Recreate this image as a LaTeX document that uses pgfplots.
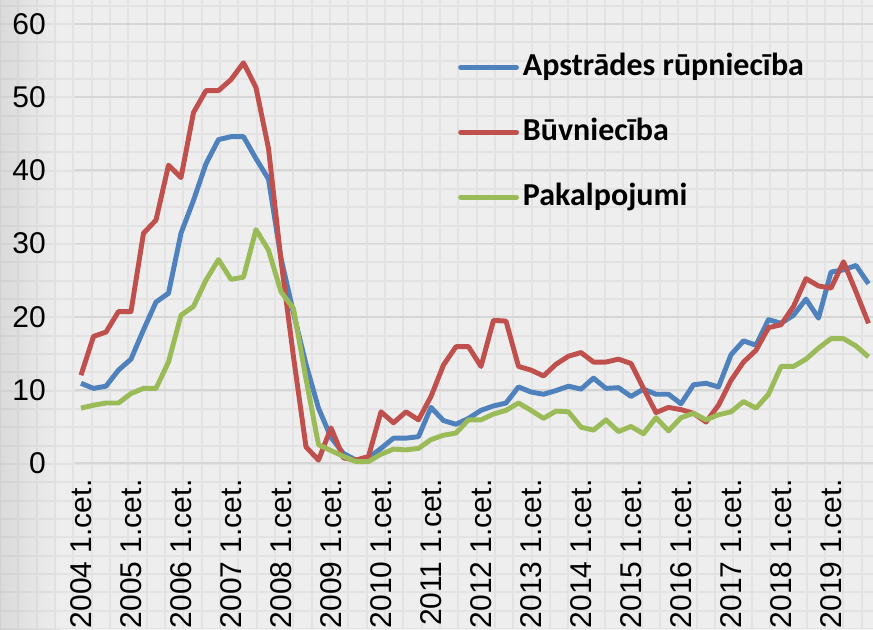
\documentclass[border=0pt]{standalone}
\usepackage{fontspec}
\setmainfont{Liberation Sans}
\newfontfamily\carlito{Carlito}
\usepackage{pgfplots}
\pgfplotsset{compat=1.18}
\definecolor{sblue}{HTML}{4F81BD}
\definecolor{sred}{HTML}{C0504D}
\definecolor{sgreen}{HTML}{9BBB59}
\definecolor{bg}{HTML}{EEEEEE}
\definecolor{bgdark}{HTML}{DADADA}
\definecolor{gridc}{HTML}{D6D6D6}
\begin{document}
\begin{tikzpicture}
\fill[bg] (0,0) rectangle (654.75pt,471.75pt);
\shade[left color=bgdark, right color=bg] (0,0) rectangle (45pt,471.75pt);
\draw[black, opacity=0.045, line width=1.3pt, step=13.75pt] (0,0) grid (654.75pt,471.75pt);
\begin{axis}[
  at={(56.06pt,116.25pt)}, anchor=south west,
  scale only axis, width=598.69pt, height=337.5pt,
  xmin=-0.5, xmax=63.36, ymin=-1.5, ymax=60,
  axis line style={draw=none},
  tick style={draw=none},
  ytick={0,10,...,60},
  ymajorgrids, grid style={gridc, line width=1.3pt},
  xtick={0,4,...,60},
  xticklabels={2004 1.cet.,2005 1.cet.,2006 1.cet.,2007 1.cet.,2008 1.cet.,2009 1.cet.,2010 1.cet.,2011 1.cet.,2012 1.cet.,2013 1.cet.,2014 1.cet.,2015 1.cet.,2016 1.cet.,2017 1.cet.,2018 1.cet.,2019 1.cet.},
  xticklabel style={rotate=90, anchor=east, inner sep=0pt, font=\fontsize{22.5}{22.5}\selectfont},
  xticklabel shift=4pt,
  yticklabel style={anchor=east, inner sep=0pt, font=\fontsize{22.5}{22.5}\selectfont},
  yticklabel shift=21.5pt,
  /pgf/number format/assume math mode=true,
  legend style={at={(0.480,0.94)}, anchor=north west, draw=none, fill=none, inner sep=0pt,
    row sep=24.75pt, font=\carlito\bfseries\fontsize{24}{24}\selectfont,
    nodes={inner sep=0pt, text height=18pt, text depth=6pt},
    /tikz/every odd column/.append style={column sep=3pt}},
  legend cell align=left,
  legend image code/.code={\draw[#1, line width=3.6pt, line cap=round] (0pt,0pt) -- (42pt,0pt);},
  every axis plot/.append style={line width=3.7pt, line join=round, mark=none},
]
\addplot[sblue] coordinates {
(0,10.9)(1,10.2)(2,10.5)(3,12.7)(4,14.2)(5,18.2)(6,22.0)(7,23.2)(8,31.4)(9,35.9)
(10,40.9)(11,44.2)(12,44.6)(13,44.6)(14,41.6)(15,38.8)(16,28.0)(17,20.5)(18,13.5)(19,7.5)
(20,3.5)(21,1.3)(22,0.4)(23,0.7)(24,2.0)(25,3.4)(26,3.4)(27,3.6)(28,7.6)(29,5.8)
(30,5.3)(31,6.1)(32,7.2)(33,7.8)(34,8.2)(35,10.4)(36,9.7)(37,9.4)(38,9.9)(39,10.5)
(40,10.1)(41,11.6)(42,10.2)(43,10.3)(44,9.1)(45,10.1)(46,9.4)(47,9.4)(48,8.1)(49,10.7)
(50,10.9)(51,10.4)(52,14.8)(53,16.7)(54,16.1)(55,19.6)(56,19.1)(57,20.2)(58,22.4)(59,19.8)
(60,26.1)(61,26.4)(62,27.0)(63,24.5)};
\addlegendentry{Apstrādes rūpniecība}
\addplot[sred] coordinates {
(0,12.0)(1,17.3)(2,17.9)(3,20.7)(4,20.7)(5,31.4)(6,33.2)(7,40.7)(8,39.0)(9,47.9)
(10,50.9)(11,50.9)(12,52.4)(13,54.7)(14,51.3)(15,43.0)(16,27.7)(17,14.5)(18,2.2)(19,0.4)
(20,4.8)(21,0.7)(22,0.4)(23,0.9)(24,7.0)(25,5.5)(26,7.0)(27,5.9)(28,9.1)(29,13.4)
(30,15.9)(31,15.9)(32,13.2)(33,19.5)(34,19.4)(35,13.2)(36,12.7)(37,11.9)(38,13.5)(39,14.6)
(40,15.1)(41,13.8)(42,13.8)(43,14.2)(44,13.6)(45,10.2)(46,6.9)(47,7.6)(48,7.3)(49,6.8)
(50,5.6)(51,7.9)(52,11.3)(53,13.8)(54,15.4)(55,18.5)(56,18.9)(57,21.4)(58,25.2)(59,24.2)
(60,23.9)(61,27.5)(62,23.4)(63,19.1)};
\addlegendentry{Būvniecība}
\addplot[sgreen] coordinates {
(0,7.5)(1,7.9)(2,8.2)(3,8.2)(4,9.5)(5,10.2)(6,10.2)(7,13.8)(8,20.2)(9,21.4)
(10,25.0)(11,27.8)(12,25.1)(13,25.4)(14,31.9)(15,29.1)(16,23.4)(17,21.1)(18,11.5)(19,2.5)
(20,1.7)(21,0.9)(22,0.2)(23,0.2)(24,1.2)(25,1.9)(26,1.8)(27,2.0)(28,3.2)(29,3.8)
(30,4.1)(31,5.9)(32,5.9)(33,6.7)(34,7.2)(35,8.2)(36,7.2)(37,6.1)(38,7.1)(39,7.0)
(40,4.9)(41,4.5)(42,5.9)(43,4.3)(44,5.0)(45,4.0)(46,6.2)(47,4.4)(48,6.2)(49,6.8)
(50,5.9)(51,6.6)(52,7.0)(53,8.4)(54,7.5)(55,9.4)(56,13.2)(57,13.2)(58,14.2)(59,15.7)
(60,17.0)(61,17.0)(62,16.0)(63,14.5)};
\addlegendentry{Pakalpojumi}
\end{axis}
\pgfresetboundingbox
\path (0,0) rectangle (654.75pt,471.75pt);
\end{tikzpicture}
\end{document}
